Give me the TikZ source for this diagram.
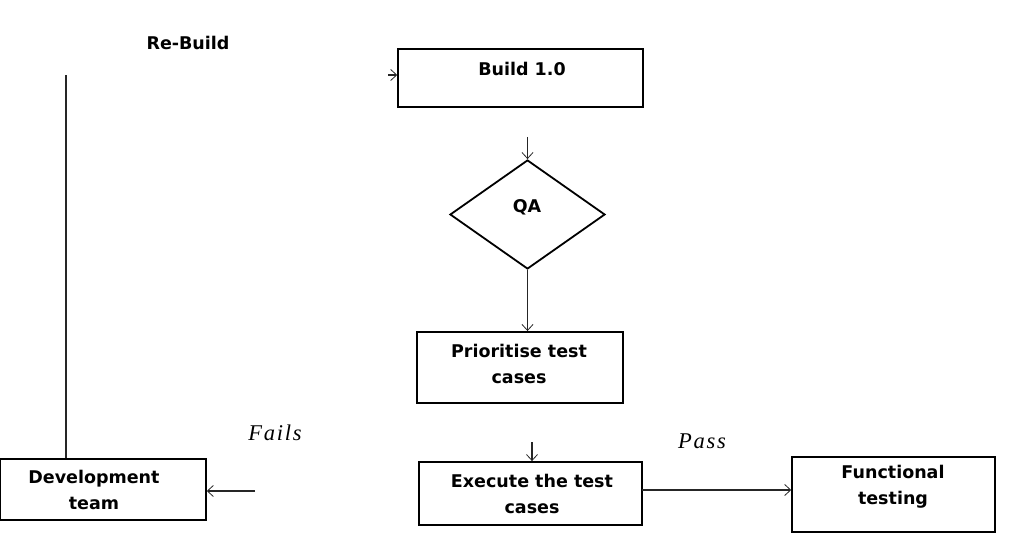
\documentclass[tikz,border=0pt]{standalone}
\usepackage{fontspec}
\usetikzlibrary{shapes.geometric,arrows.meta}
\newfontfamily\boxfont{DejaVu Sans}
\newfontfamily\lblfont[LetterSpace=8]{Liberation Serif}
\begin{document}
\begin{tikzpicture}[x=1bp,y=-1bp,
  boxshape/.style={draw=black,line width=1.5bp,rectangle,inner sep=0pt},
  boxtext/.style={font=\boxfont\bfseries\fontsize{17.5bp}{26bp}\selectfont,align=center,inner sep=0pt},
  lbl/.style={font=\lblfont\itshape\fontsize{22.5bp}{26bp}\selectfont,inner sep=0pt},
  conn/.style={draw=black!85,line width=1.3bp},
  arr/.style={conn,-{Straight Barb[length=6bp,width=11bp,line width=0.8bp]}}
]
\useasboundingbox (0,0) rectangle (1035,558);
% boxes
\node[boxshape,minimum width=245bp,minimum height=58bp] (b1) at (520.5,78) {};
\node[boxtext] (b1t) at (522,69) {Build 1.0};
\node[draw=black,line width=1.8bp,shape=diamond,minimum width=155bp,minimum height=109bp,inner sep=0pt] (qa) at (527.5,214.5) {};
\node[boxtext] (qat) at (527,207) {QA};
\node[boxshape,line width=1.9bp,minimum width=206bp,minimum height=71bp] (pr) at (520,367.5) {};
\node[boxtext] (prt) at (519,363.5) {Prioritise test\\cases};
\node[boxshape,line width=1.8bp,minimum width=223bp,minimum height=63bp] (ex) at (530.5,493.5) {};
\node[boxtext] (ext) at (532,494) {Execute the test\\cases};
\node[boxshape,minimum width=203bp,minimum height=75bp] (fn) at (893.5,494.5) {};
\node[boxtext] (fnt) at (893,487) {Functional\\testing};
\node[boxshape,minimum width=206bp,minimum height=61bp] (dev) at (103,489.5) {};
\node[boxtext] (devt) at (94,489.5) {Development\\team};
% labels
\node[boxtext] (rb) at (188,43) {Re-Build};
\node[lbl] (fails) at (275,433) {Fails};
\node[lbl] (pass) at (702,441) {Pass};
% connector ends
\coordinate (rbtop) at (66,75);
\coordinate (rbin) at (388,75);
\coordinate (q1) at (527.5,137);
\coordinate (e1) at (532,442);
\coordinate (f1) at (255,491);
\coordinate (p1) at (642,490);
% connectors
\draw[conn] (dev.north -| rbtop) -- (rbtop);
\draw[arr] (rbin) -- (rbin -| b1.west);
\draw[arr] (q1) -- (qa.north);
\draw[arr] (qa.south) -- (qa.south |- pr.north);
\draw[arr] (e1) -- (e1 |- ex.north);
\draw[arr] (p1) -- (p1 -| fn.west);
\draw[arr] (f1) -- (f1 -| dev.east);
\end{tikzpicture}
\end{document}
